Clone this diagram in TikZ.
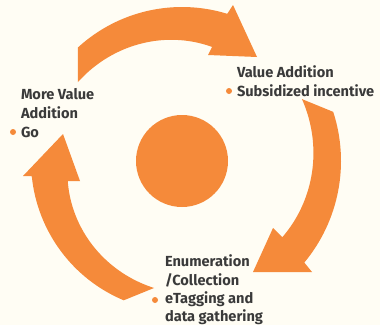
\documentclass[tikz,border=0pt]{standalone}
\usepackage{fontspec}
\setmainfont{Fira Sans}
\definecolor{bgcream}{HTML}{FFFDF4}
\definecolor{arroworange}{HTML}{F58A3A}
\definecolor{labelgray}{HTML}{3A3A3A}
\begin{document}
\begin{tikzpicture}[x=1pt,y=1pt,
  arrowshape/.style={fill=arroworange, draw=none},
  lbl/.style={anchor=base west, inner sep=0pt, outer sep=0pt, text=labelgray, font=\fontsize{14.6}{19}\selectfont\bfseries},
  bulletdot/.style={circle, fill=arroworange, minimum size=6pt, inner sep=0pt}]
\useasboundingbox (0,0) rectangle (380,325);
\fill[bgcream] (0,0) rectangle (380,325);
\coordinate (C) at (182,164);
% centre disc
\node[circle, fill=arroworange, minimum size=92pt, inner sep=0pt] (hub) at (182,164) {};
% top arrow
\fill[arrowshape] (182,164) ++(132.6:154) arc[start angle=132.6, end angle=72.9, radius=154]
  -- (233,320) -- (257,268) -- (208,270) -- (212,278)
  -- plot[domain=75.3:142.8, samples=40] ({182+(118+(\x-75.3)*12.6/67.5)*cos(\x)}, {164+(118+(\x-75.3)*12.6/67.5)*sin(\x)})
  -- cycle;
% right arrow
\fill[arrowshape] (182,164) ++(18:159) arc[start angle=18, end angle=-39.7, radius=159]
  -- (312,53) -- (253,53) -- (273,97) -- (282,88)
  -- plot[domain=-37.2:27.3, samples=40] ({182+(126+(\x+37.2)*9/64.5)*cos(\x)}, {164+(126+(\x+37.2)*9/64.5)*sin(\x)})
  -- cycle;
% left arrow
\fill[arrowshape] (182,164) ++(247.3:151) arc[start angle=247.3, end angle=185.8, radius=151]
  -- (23,149) -- (63,191) -- (80,144) -- (68,144)
  -- plot[domain=190:257.6, samples=40] ({182+(116+(\x-190)*14/67.6)*cos(\x)}, {164+(116+(\x-190)*14/67.6)*sin(\x)})
  -- cycle;
% labels
\node[lbl] (mv1) at (21,226) {More Value};
\node[lbl] (mv2) at (21,207) {Addition};
\node[lbl] (mv3) at (21,188) {Go};
\node[bulletdot] (b1) at (13,193) {};
\node[lbl] (va1) at (237,248) {Value Addition};
\node[lbl] (va2) at (237,229) {Subsidized incentive};
\node[bulletdot] (b2) at (229,234) {};
\node[lbl] (en1) at (165,59) {Enumeration};
\node[lbl] (en2) at (165,40) {/Collection};
\node[lbl] (en3) at (165,22) {eTagging and};
\node[lbl] (en4) at (165,4) {data gathering};
\node[bulletdot] (b3) at (155,25) {};
\end{tikzpicture}
\end{document}
